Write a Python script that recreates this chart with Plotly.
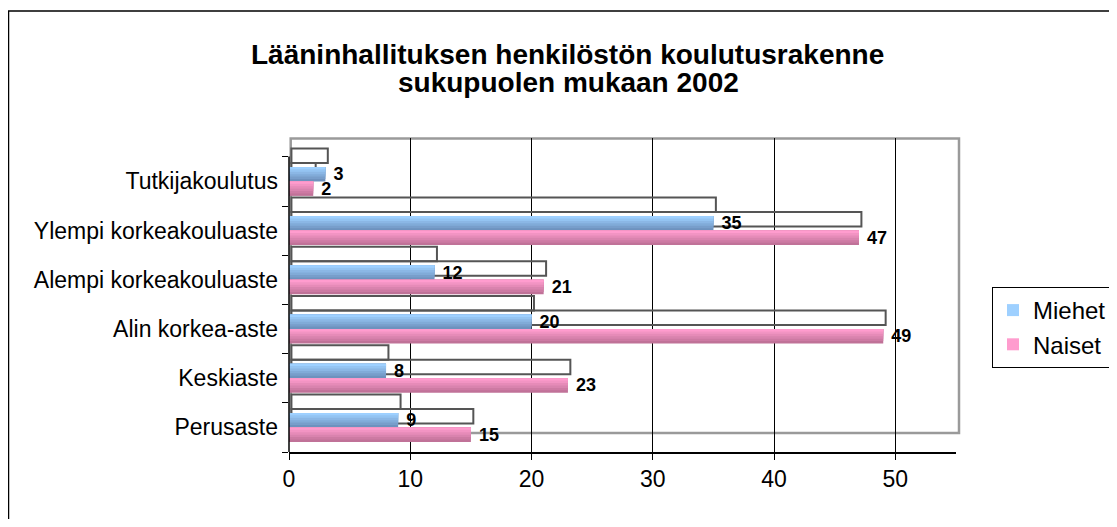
import plotly.graph_objects as go

# ---- data ----
categories = ['Perusaste', 'Keskiaste', 'Alin korkea-aste',
              'Alempi korkeakouluaste', 'Ylempi korkeakouluaste', 'Tutkijakoulutus']
miehet = [9, 8, 20, 12, 35, 3]
naiset = [15, 23, 49, 21, 47, 2]
series_names = ['Miehet', 'Naiset']
x_ticks = [0, 10, 20, 30, 40, 50]
title_lines = ['Lääninhallituksen henkilöstön koulutusrakenne', 'sukupuolen mukaan 2002']

# ---- geometry helpers (reference-screen pixels -> paper) ----
OFF = 8                      # page body margin of the browser
W, H = 1117 - 2 * OFF, 527 - 2 * OFF
RL, RR, RT, RB = 289, 956, 138, 452   # plot area in screen pixels
L, R, T, B = RL - OFF, RR - OFF, RT - OFF, RB - OFF
BAND = 49.2


def px(x):
    return (x - OFF - L) / (R - L)


def py(y):
    return (B - (y - OFF)) / (B - T)


BAR_W = 0.295
SHIFT = 0.376
FONT = 'Liberation Sans, Arial, sans-serif'


def mix(c1, c2, t):
    a = [int(c1[i:i + 2], 16) for i in (1, 3, 5)]
    b = [int(c2[i:i + 2], 16) for i in (1, 3, 5)]
    return '#' + ''.join(f'{round(a[k] + (b[k] - a[k]) * t):02x}' for k in range(3))


styles = {
    'Miehet': dict(dark='#6E92BE', light='#9ED0FF', off=0.0, vals=miehet),
    'Naiset': dict(dark='#C07298', light='#FF9CCE', off=-BAR_W, vals=naiset),
}

fig = go.Figure()

# shadow outlines (3D depth of the bars)
for name in series_names:
    s = styles[name]
    fig.add_trace(go.Bar(
        y=categories, x=s['vals'], base=0.2, orientation='h',
        offset=s['off'] + SHIFT, width=BAR_W,
        marker=dict(color='rgba(0,0,0,0)', line=dict(color='#555555', width=2)),
        showlegend=False, hoverinfo='skip'))

# bars with a vertical gradient built from layers
N = 6
for name in series_names:
    s = styles[name]
    for k in range(N):
        f = 1 - k / N
        color = mix(s['dark'], s['light'], k / (N - 1))
        kw = {}
        if k == 0:
            kw = dict(text=[f'\u00a0{v}' for v in s['vals']], textposition='outside',
                      textfont=dict(family=FONT, size=18, color='black', weight='bold'),
                      constraintext='none', cliponaxis=False)
        fig.add_trace(go.Bar(
            y=categories, x=s['vals'], orientation='h', name=name,
            offset=s['off'] + BAR_W * (1 - f), width=BAR_W * f,
            marker=dict(color=color, line=dict(width=0)),
            showlegend=(k == N - 1), legendrank=1 if name == 'Miehet' else 2,
            **kw))

shapes = [
    # outer chart border
    dict(type='rect', xref='paper', yref='paper', x0=px(8.5), x1=px(1130),
         y0=py(540), y1=py(11), line=dict(color='black', width=1.5), layer='below'),
    # hide gridlines above the category area
    dict(type='rect', xref='paper', yref='paper', x0=px(287), x1=px(958),
         y0=py(156.5), y1=py(136), fillcolor='white', line=dict(width=0), layer='between'),
    # plot-area (3D wall) border
    dict(type='rect', xref='paper', yref='paper', x0=px(290.7), x1=px(959),
         y0=py(433), y1=py(138.5), line=dict(color='#9a9a9a', width=2.5), layer='between'),
    # value-axis line over the category span only
    dict(type='line', xref='paper', yref='paper', x0=px(289), x1=px(289),
         y0=py(452), y1=py(156.5), line=dict(color='black', width=1.5), layer='above'),
]

annotations = [
    dict(text=title_lines[0], xref='paper', yref='paper', x=px(567), y=py(54),
         xanchor='center', yanchor='middle', showarrow=False,
         font=dict(family=FONT, size=28, color='black', weight='bold')),
    dict(text=title_lines[1], xref='paper', yref='paper', x=px(568), y=py(83),
         xanchor='center', yanchor='middle', showarrow=False,
         font=dict(family=FONT, size=28, color='black', weight='bold')),
]

fig.update_layout(
    width=W, height=H,
    margin=dict(l=L, r=W - R, t=T, b=H - B, pad=0, autoexpand=False),
    paper_bgcolor='white', plot_bgcolor='white',
    barmode='overlay',
    font=dict(family=FONT, color='black'),
    shapes=shapes, annotations=annotations,
    showlegend=True,
    legend=dict(x=px(992), y=py(287), xanchor='left', yanchor='top',
                bgcolor='white', bordercolor='black', borderwidth=1,
                font=dict(family=FONT, size=24, color='black'),
                itemwidth=30, traceorder='normal'),
    xaxis=dict(range=[0, 55], tickvals=x_ticks, showgrid=True, gridcolor='black',
               gridwidth=1, zeroline=False, showline=True, linecolor='black',
               linewidth=1.5, ticks='outside', ticklen=6, tickcolor='black',
               tickfont=dict(family=FONT, size=23, color='black')),
    yaxis=dict(type='category', categoryorder='array', categoryarray=categories,
               range=[-0.5, -0.5 + (B - T) / BAND], tickson='boundaries',
               showgrid=False, zeroline=False, showline=False,
               ticks='outside', ticklen=6, tickcolor='black', ticklabelstandoff=10,
               tickfont=dict(family=FONT, size=23, color='black')),
)

fig.write_html('out.html')
